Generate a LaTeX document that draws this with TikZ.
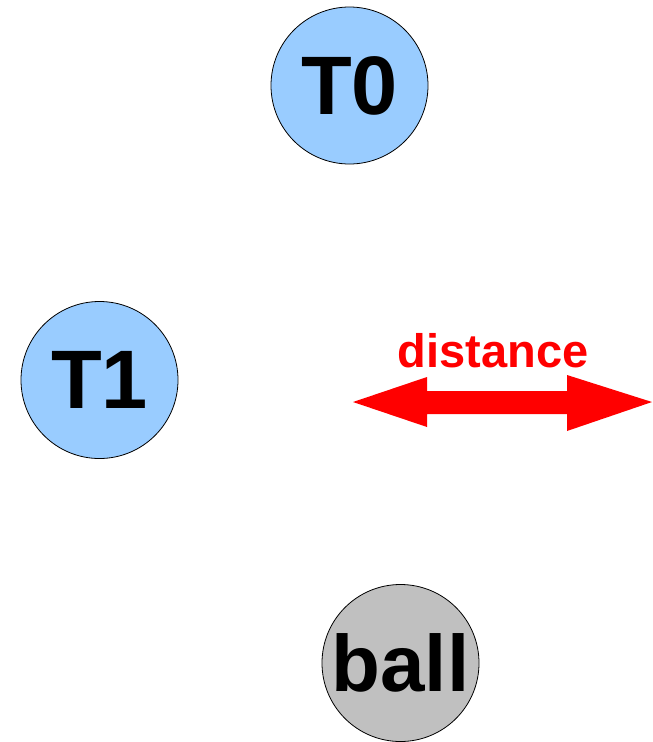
\documentclass[tikz,border=0pt]{standalone}
\usepackage{fontspec}
\setmainfont{Liberation Sans}
\definecolor{tblue}{HTML}{99CCFF}
\definecolor{bgray}{HTML}{C0C0C0}
\definecolor{ared}{HTML}{FF0000}
\begin{document}
\begin{tikzpicture}[x=1pt,y=-1pt,
  disc/.style={circle,draw=black,line width=0.8pt,minimum size=157pt,inner sep=0pt,font=\fontsize{83}{83}\selectfont\bfseries}]
\useasboundingbox (0,0) rectangle (653,742);
\node[disc,fill=tblue] (T0) at (349.5,85.5) {T0};
\node[disc,fill=tblue] (T1) at (99.5,380) {T1};
\node[disc,fill=bgray,font=\fontsize{80}{80}\selectfont\bfseries] (ball) at (400.5,663) {ball};
\fill[ared] (353,402) -- (427,377) -- (427,391) -- (567,391) -- (567,375) -- (652,402)
  -- (567,431) -- (567,414) -- (427,414) -- (427,427) -- cycle;
\node[anchor=base,text=ared,font=\fontsize{47}{47}\selectfont\bfseries,inner sep=0pt] (dist) at (493,367) {distance};
\end{tikzpicture}
\end{document}
